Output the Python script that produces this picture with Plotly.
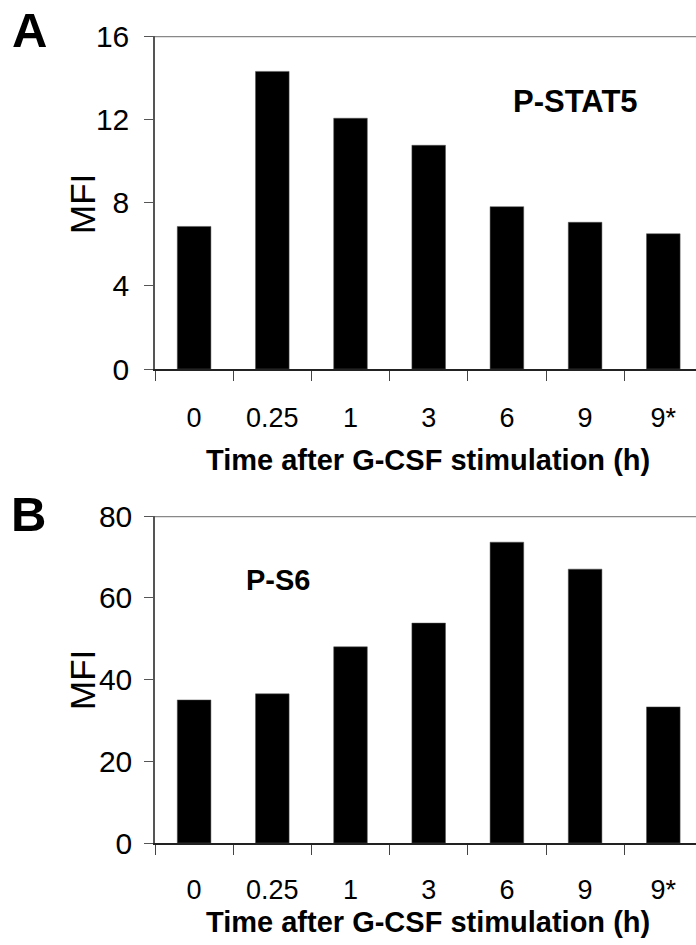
import plotly.graph_objects as go

categories = ["0", "0.25", "1", "3", "6", "9", "9*"]
stat5_values = [6.85, 14.3, 12.05, 10.75, 7.8, 7.05, 6.5]
s6_values = [35.0, 36.5, 48.0, 53.8, 73.6, 67.0, 33.3]
stat5_ticks = [0, 4, 8, 12, 16]
s6_ticks = [0, 20, 40, 60, 80]
x_title = "Time after G-CSF stimulation (h)"
y_title = "MFI"

W, H = 696, 945
FONT = "Liberation Sans, Arial, sans-serif"

def py(px):
    return (H - px) / H

def pxx(px):
    return px / W

fig = go.Figure()
fig.add_trace(go.Bar(x=categories, y=stat5_values, marker=dict(color="black", line=dict(color="#555", width=0.5)),
                     xaxis="x", yaxis="y"))
fig.add_trace(go.Bar(x=categories, y=s6_values, marker=dict(color="black", line=dict(color="#555", width=0.5)),
                     xaxis="x2", yaxis="y2"))

x_left = 155
cat_w = 78.2
x_end = -0.5 + (W - x_left) / cat_w

common_x = dict(type="category", range=[-0.5, x_end], showline=True, linecolor="#222", linewidth=1.5,
                ticks="outside", ticklen=10, tickcolor="#444", tickwidth=1.2, tickson="boundaries",
                tickfont=dict(family=FONT, size=27, color="black"), showgrid=False, zeroline=False,
                automargin=False, domain=[pxx(x_left), 1])
common_y = dict(showline=True, linecolor="#555", linewidth=1.5, ticks="outside", ticklen=9,
                tickcolor="#555", tickwidth=1.2, tickfont=dict(family=FONT, size=30, color="black"),
                showgrid=False, zeroline=False, automargin=False)

fig.update_layout(
    width=W, height=H, margin=dict(l=0, r=0, t=0, b=0),
    paper_bgcolor="white", plot_bgcolor="white", showlegend=False, bargap=0.57,
    xaxis=dict(anchor="y", ticklabelstandoff=24, **common_x),
    yaxis=dict(anchor="x", range=[0, 16], tickvals=stat5_ticks, domain=[py(369), py(36)],
               ticklabelstandoff=9, **common_y),
    xaxis2=dict(anchor="y2", ticklabelstandoff=22, **common_x),
    yaxis2=dict(anchor="x2", range=[0, 80], tickvals=s6_ticks, domain=[py(843), py(516)],
                ticklabelstandoff=6, **common_y),
)

# top border lines
for yref, top in (("y", 16), ("y2", 80)):
    fig.add_shape(type="line", xref="paper", yref=yref, x0=pxx(x_left), x1=1, y0=top, y1=top,
                  line=dict(color="#888", width=2.5), layer="above")

ann = []
def A(text, x, y, size, bold=False, angle=0):
    ann.append(dict(text=f"<b>{text}</b>" if bold else text, x=pxx(x), y=py(y), xref="paper", yref="paper",
                    showarrow=False, xanchor="center", yanchor="middle", textangle=angle,
                    font=dict(family=FONT, size=size, color="black")))

A("A", 29, 30, 49, bold=True)
A("B", 28, 514, 49, bold=True)
A("P-STAT5", 575, 102, 31, bold=True)
A("P-S6", 278, 580, 29, bold=True)
A(y_title, 82, 204, 35, angle=-90)
A(y_title, 82, 680, 35, angle=-90)
A(x_title, 428, 460, 29, bold=True)
A(x_title, 428, 922, 29, bold=True)
fig.update_layout(annotations=ann)

fig.write_html("out.html")
